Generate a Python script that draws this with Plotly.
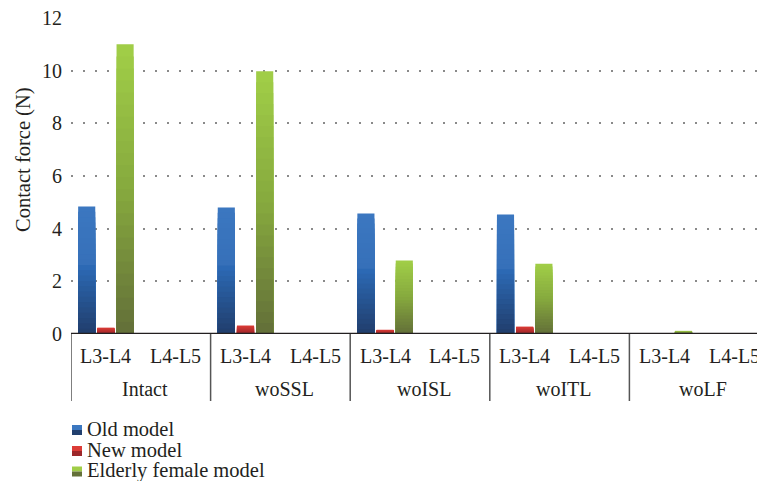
import plotly.graph_objects as go

# ---------------- data ----------------
groups = ["Intact", "woSSL", "woISL", "woITL", "woLF"]
levels = ["L3-L4", "L4-L5"]
series_names = ["Old model", "New model", "Elderly female model"]
old_model = [4.84, 0, 4.80, 0, 4.58, 0, 4.54, 0, 0, 0]
new_model = [0.24, 0, 0.32, 0, 0.16, 0, 0.28, 0, 0, 0]
elderly_female = [11.0, 0, 9.98, 0, 2.79, 0, 2.67, 0, 0.12, 0]
y_ticks = [0, 2, 4, 6, 8, 10, 12]

# ---------------- style ----------------
W, H = 757, 481
ML, MR, MT, MB = 71, 0, 18, 147
PW, PH = W - ML - MR, H - MT - MB
CAT_PX = 69.8
FONT = "Liberation Serif"
TXT = "#231f20"

# gradient stops (fraction from top, colour)
grad = [
    [(0.0, (0x3b, 0x77, 0xc0)), (0.45, (0x36, 0x70, 0xb9)), (0.46, (0x2c, 0x6a, 0xb6)), (1.0, (0x21, 0x3f, 0x6e))],
    [(0.0, (0xdc, 0x3c, 0x37)), (1.0, (0x9c, 0x27, 0x2a))],
    [(0.0, (0xa0, 0xcd, 0x47)), (0.5, (0x86, 0xa9, 0x3e)), (1.0, (0x64, 0x71, 0x39))],
]
offsets = [-0.275, 0.0, 0.275]
bar_w = 0.245
N_SLICES = 24


def col_at(stops, f):
    for (f0, c0), (f1, c1) in zip(stops[:-1], stops[1:]):
        if f0 <= f <= f1:
            t = 0 if f1 == f0 else (f - f0) / (f1 - f0)
            c = [round(a + (b - a) * t) for a, b in zip(c0, c1)]
            return "rgb(%d,%d,%d)" % tuple(c)
    return "rgb(%d,%d,%d)" % stops[-1][1]


x_pos = list(range(len(groups) * len(levels)))
all_series = [old_model, new_model, elderly_female]

fig = go.Figure()
for si, (name, vals) in enumerate(zip(series_names, all_series)):
    for k in range(N_SLICES):
        frac = (N_SLICES - k) / N_SLICES
        fig.add_trace(go.Bar(
            x=x_pos,
            y=[v * frac for v in vals],
            name=name,
            width=bar_w,
            offset=offsets[si] - bar_w / 2,
            marker=dict(color=col_at(grad[si], k / (N_SLICES - 1)), line=dict(width=0)),
            showlegend=False,
            hoverinfo="skip" if k else "y+name",
        ))

x_range = [-0.5, -0.5 + PW / CAT_PX]


def py(px):  # pixel y -> paper y
    return (H - MB - px) / PH


def px_x(px):  # pixel x -> paper x
    return (px - ML) / PW


shapes = []
annotations = []

# axis baseline
shapes.append(dict(type="line", xref="paper", yref="y", x0=0, x1=1, y0=0, y1=0,
                   line=dict(color="#231f20", width=2.5), layer="above"))
# group dividers
for gi in range(len(groups)):
    xd = gi * len(levels) - 0.5
    shapes.append(dict(type="line", xref="x", yref="paper", x0=xd, x1=xd,
                       y0=0, y1=py(401), line=dict(color="#555555", width=1.5)))

# category labels
for i, xp in enumerate(x_pos):
    annotations.append(dict(x=xp, y=py(356), xref="x", yref="paper", text=levels[i % 2],
                            showarrow=False, xanchor="center", yanchor="middle",
                            font=dict(family=FONT, size=20, color=TXT)))
for gi, g in enumerate(groups):
    annotations.append(dict(x=gi * 2 + 0.5 + 0.06, y=py(389), xref="x", yref="paper", text=g,
                            showarrow=False, xanchor="center", yanchor="middle",
                            font=dict(family=FONT, size=20, color=TXT)))

# y title
annotations.append(dict(x=px_x(24), y=py(160), xref="paper", yref="paper", text="Contact force (N)",
                        textangle=-90, showarrow=False, xanchor="center", yanchor="middle",
                        font=dict(family=FONT, size=20.5, color=TXT)))

# legend (manual)
leg_rows = [430, 451, 471.5]
for si, name in enumerate(series_names):
    yc = leg_rows[si]
    top_c = col_at(grad[si], 0.0)
    bot_c = col_at(grad[si], 1.0)
    shapes.append(dict(type="rect", xref="paper", yref="paper", x0=px_x(72), x1=px_x(82),
                       y0=py(yc), y1=py(yc - 5), fillcolor=top_c, line=dict(width=0)))
    shapes.append(dict(type="rect", xref="paper", yref="paper", x0=px_x(72), x1=px_x(82),
                       y0=py(yc + 5), y1=py(yc), fillcolor=bot_c, line=dict(width=0)))
    annotations.append(dict(x=px_x(85), y=py(yc - 1.5), xref="paper", yref="paper", text=name,
                            showarrow=False, xanchor="left", yanchor="middle",
                            font=dict(family=FONT, size=20.5, color=TXT)))

fig.update_layout(
    width=W, height=H,
    margin=dict(l=ML, r=MR, t=MT, b=MB, autoexpand=False),
    paper_bgcolor="white", plot_bgcolor="white",
    barmode="overlay",
    showlegend=False,
    xaxis=dict(range=x_range, showticklabels=False, showgrid=False, zeroline=False,
               showline=False, ticks="", fixedrange=True),
    yaxis=dict(range=[0, 12], tickvals=y_ticks, ticktext=[str(t) for t in y_ticks],
               showgrid=True, gridcolor="#8a8a8a", gridwidth=1.5, griddash="2px,10px",
               zeroline=False, showline=False, ticks="", ticklabelstandoff=8,
               tickfont=dict(family=FONT, size=20, color=TXT), fixedrange=True),
    shapes=shapes,
    annotations=annotations,
)

fig.write_html(
    "out.html",
    config={"displayModeBar": False},
    post_script="document.body.style.margin='0';document.body.style.overflow='hidden';",
)
